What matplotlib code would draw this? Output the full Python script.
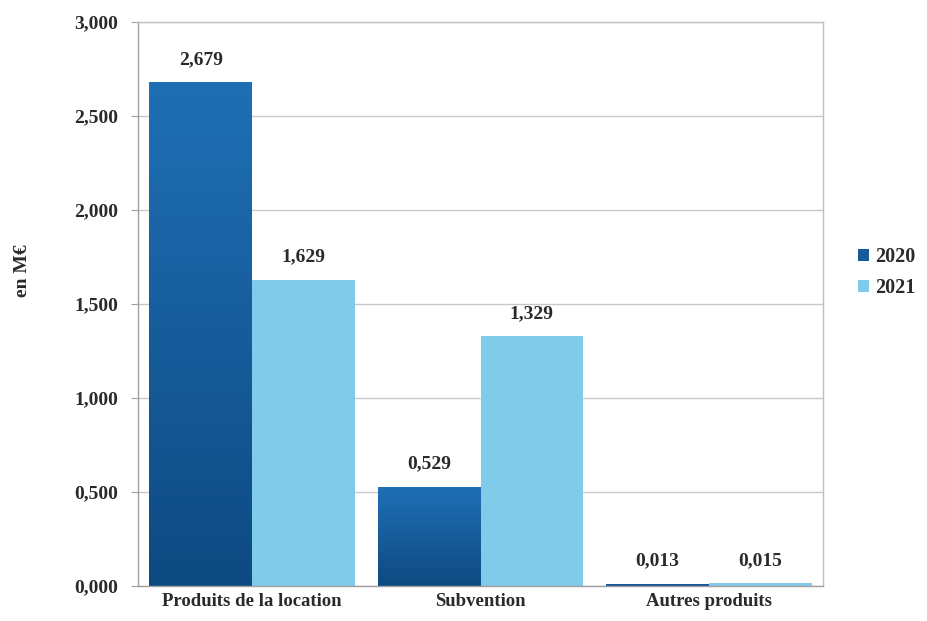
import matplotlib
matplotlib.use("Agg")
import matplotlib.pyplot as plt
import numpy as np
from matplotlib.colors import LinearSegmentedColormap

categories = ["Produits de la location", "Subvention", "Autres produits"]
series_names = ["2020", "2021"]
values_2020 = [2.679, 0.529, 0.013]
values_2021 = [1.629, 1.329, 0.015]
yticks = [0, 0.5, 1.0, 1.5, 2.0, 2.5, 3.0]
ytick_labels = ["0,000", "0,500", "1,000", "1,500", "2,000", "2,500", "3,000"]

plt.rcParams['font.family'] = ['Liberation Serif', 'DejaVu Serif']
plt.rcParams['font.weight'] = 'bold'

fig = plt.figure(figsize=(9.28, 6.21), dpi=100)
ax = fig.add_axes([0.1487, 0.0564, 0.7382, 0.9082])

x = np.arange(len(categories))
w = 0.45
c2020 = "#175b9c"
c2021 = "#80cbea"
bars1 = ax.bar(x - w/2, values_2020, w, color=c2020, label=series_names[0], zorder=2)
bars2 = ax.bar(x + w/2, values_2021, w, color=c2021, label=series_names[1], zorder=2)

# gradient for 2020 bars
cmap = LinearSegmentedColormap.from_list("g", ["#0e4a82", "#1f6fb5"])
grad = np.linspace(0, 1, 256).reshape(-1, 1)
for b in bars1:
    bx, by = b.get_x(), b.get_y()
    bw, bh = b.get_width(), b.get_height()
    im = ax.imshow(grad, extent=[bx, bx + bw, by, by + bh], origin='lower',
                   cmap=cmap, aspect='auto', zorder=2.1)
    im.set_clip_path(b)

def fmt(v):
    return f"{v:.3f}".replace(".", ",")

for b, v in list(zip(bars1, values_2020)) + list(zip(bars2, values_2021)):
    ax.text(b.get_x() + b.get_width()/2, v + 0.075, fmt(v), ha='center', va='bottom',
            fontsize=14, color="#2a2a2a", fontweight='bold')

ax.set_xlim(-0.5, 2.5)
ax.set_ylim(0, 3.0)
ax.set_yticks(yticks)
ax.set_yticklabels(ytick_labels)
ax.set_xticks(x)
ax.set_xticklabels(categories)
ax.tick_params(axis='y', length=5, color="#a0a0a0", labelsize=14, labelcolor="#2a2a2a", pad=9)
ax.tick_params(axis='x', length=0, labelsize=13.5, labelcolor="#2a2a2a", pad=5)
ax.grid(axis='y', color="#c8c8c8", linewidth=1, zorder=0)
for s in ax.spines.values():
    s.set_color("#c0c0c0")
    s.set_linewidth(1)
ax.spines['bottom'].set_color("#a0a0a0")
ax.spines['left'].set_color("#a0a0a0")

fig.text(0.024, 0.5636, "en M€", rotation=90, ha='center', va='center', fontsize=14,
         fontweight='bold', color="#2a2a2a")

leg = ax.legend(loc='center left', bbox_to_anchor=(1.025, 0.556), frameon=False,
                fontsize=14.5, handlelength=0.55, handleheight=0.55, handletextpad=0.3,
                labelspacing=0.55)
for t in leg.get_texts():
    t.set_color("#2a2a2a")

fig.savefig("out.png", dpi=100)
